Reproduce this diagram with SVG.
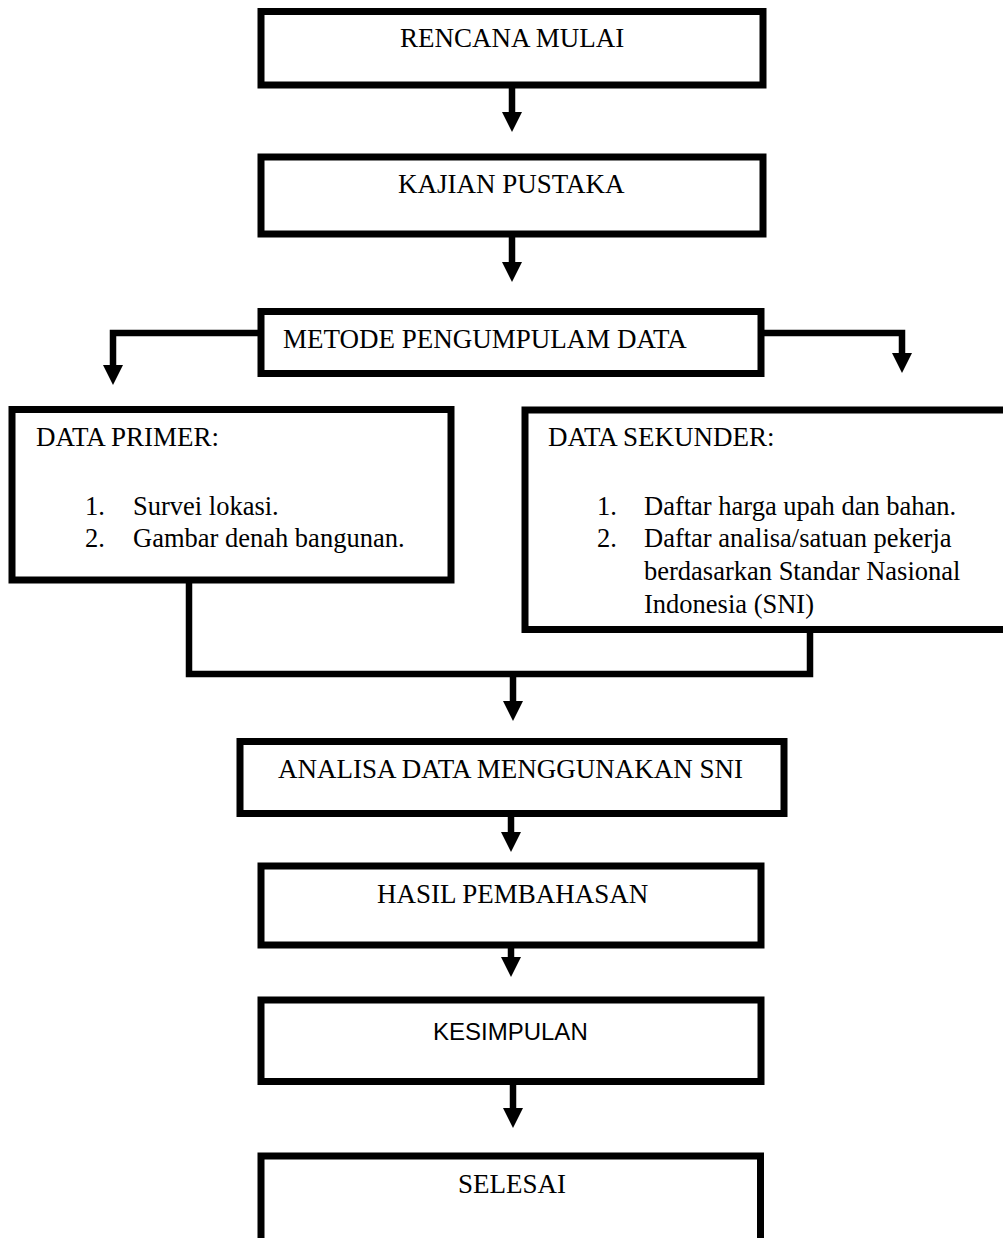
<svg xmlns="http://www.w3.org/2000/svg" width="1003" height="1238" viewBox="0 0 1003 1238">
<defs>
<style>
.box{fill:#fff;stroke:#000;stroke-width:7}
.t{font-family:"Liberation Serif","Times New Roman",serif;font-size:27px;fill:#000}
.l{font-family:"Liberation Serif","Times New Roman",serif;font-size:26.5px;fill:#000}
.s{font-family:"Liberation Sans",Arial,sans-serif;font-size:24px;fill:#000}
.c{fill:none;stroke:#000;stroke-width:6.5}
</style>
<marker id="ah" viewBox="0 0 20 20" markerWidth="20" markerHeight="20" markerUnits="userSpaceOnUse" refX="0" refY="10" orient="auto">
<path d="M0,0 L20,10 L0,20 z" fill="#000"/>
</marker>
</defs>
<rect width="1003" height="1238" fill="#fff"/>
<g id="connectors">
<line class="c" x1="512" y1="85" x2="512" y2="112" marker-end="url(#ah)"/>
<line class="c" x1="512" y1="234" x2="512" y2="262" marker-end="url(#ah)"/>
<path class="c" d="M261,333 H113 V365" marker-end="url(#ah)"/>
<path class="c" d="M761,333 H902 V353" marker-end="url(#ah)"/>
<path class="c" d="M189,580 V674 H810 V629"/>
<line class="c" x1="513" y1="674" x2="513" y2="701" marker-end="url(#ah)"/>
<line class="c" x1="511" y1="813" x2="511" y2="832" marker-end="url(#ah)"/>
<line class="c" x1="511" y1="945" x2="511" y2="957" marker-end="url(#ah)"/>
<line class="c" x1="513" y1="1081" x2="513" y2="1108" marker-end="url(#ah)"/>
</g>
<g id="rencana">
<rect class="box" x="261" y="11.5" width="502" height="73.5"/>
<text class="t" x="400" y="47">RENCANA MULAI</text>
</g>
<g id="kajian">
<rect class="box" x="261" y="157" width="502" height="77"/>
<text class="t" x="398" y="193">KAJIAN PUSTAKA</text>
</g>
<g id="metode">
<rect class="box" x="261" y="311.5" width="500" height="62"/>
<text class="t" x="283" y="348">METODE PENGUMPULAM DATA</text>
</g>
<g id="primer">
<rect class="box" x="12" y="409.5" width="439" height="170.5"/>
<text class="t" x="36" y="446">DATA PRIMER:</text>
<text class="l" x="85" y="515">1.</text>
<text class="l" x="133" y="515">Survei lokasi.</text>
<text class="l" x="85" y="547">2.</text>
<text class="l" x="133" y="547">Gambar denah bangunan.</text>
</g>
<g id="sekunder">
<rect class="box" x="525" y="410" width="490" height="219.5"/>
<text class="t" x="548" y="446">DATA SEKUNDER:</text>
<text class="l" x="597" y="515">1.</text>
<text class="l" x="644" y="515">Daftar harga upah dan bahan.</text>
<text class="l" x="597" y="547">2.</text>
<text class="l" x="644" y="547">Daftar analisa/satuan pekerja</text>
<text class="l" x="644" y="580">berdasarkan Standar Nasional</text>
<text class="l" x="644" y="613">Indonesia (SNI)</text>
</g>
<g id="analisa">
<rect class="box" x="240" y="741.5" width="544" height="72"/>
<text class="t" x="278" y="778">ANALISA DATA MENGGUNAKAN SNI</text>
</g>
<g id="hasil">
<rect class="box" x="261" y="866" width="500" height="79"/>
<text class="t" x="377" y="903">HASIL PEMBAHASAN</text>
</g>
<g id="kesimpulan">
<rect class="box" x="261" y="1000" width="500" height="81.5"/>
<text class="s" x="433" y="1040">KESIMPULAN</text>
</g>
<g id="selesai">
<rect class="box" x="261" y="1156" width="499.5" height="100"/>
<text class="t" x="458" y="1193">SELESAI</text>
</g>
</svg>
